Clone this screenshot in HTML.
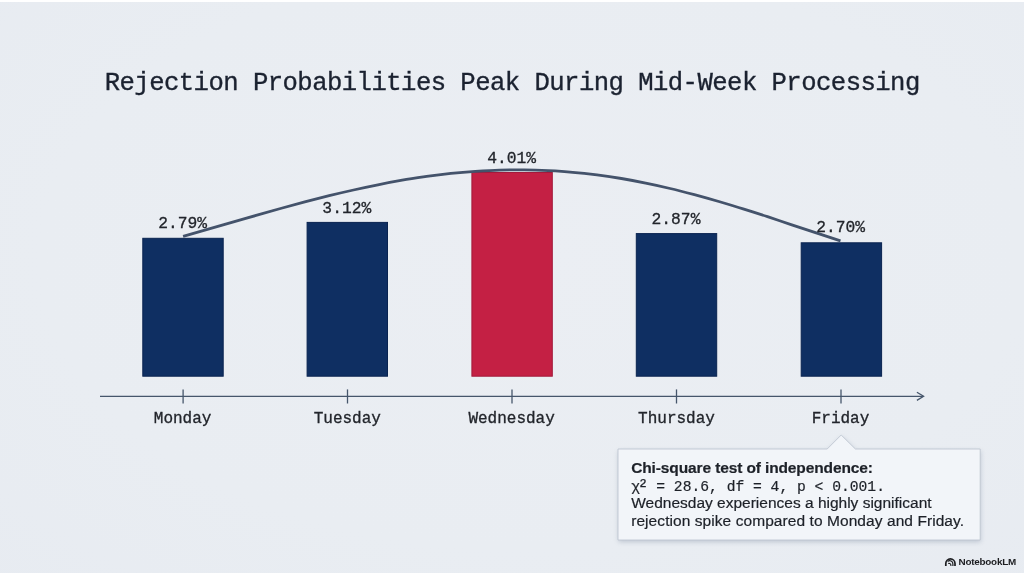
<!DOCTYPE html>
<html lang="en">
<head>
<meta charset="utf-8">
<title>Rejection Probabilities Peak During Mid-Week Processing</title>
<style>
  html, body { margin:0; padding:0; }
  body { width:1024px; height:576px; overflow:hidden; background:#ffffff; position:relative;
         font-family:"Liberation Sans", sans-serif; }
  #slide { position:absolute; left:0; top:2px; width:1024px; height:571px; background:radial-gradient(ellipse 80% 85% at 52% 45%, #ebeef3 0%, #e9edf2 60%, #e7ebf1 100%); }
  svg#chart { position:absolute; left:0; top:0; width:1024px; height:576px; }
  .mono { font-family:"Liberation Mono", monospace; }
  h1 { position:absolute; margin:0; left:104.7px; top:70px; font-family:"Liberation Mono", monospace;
       font-weight:400; font-size:25.6px; line-height:28px; color:#1b2230; white-space:nowrap; letter-spacing:-0.54px; -webkit-text-stroke:0.35px #1b2230; }
  .val { position:absolute; width:100px; margin-left:-50px; text-align:center; font-family:"Liberation Mono", monospace;
         font-size:16.3px; line-height:18px; color:#22252b; white-space:nowrap; -webkit-text-stroke:0.3px #22252b; }
  .day { position:absolute; width:120px; margin-left:-60px; text-align:center; font-family:"Liberation Mono", monospace;
         font-size:16px; line-height:18px; color:#22252b; white-space:nowrap; -webkit-text-stroke:0.3px #22252b; }
  #note { position:absolute; left:618px; top:449px; width:362px; height:91px; }
  #note p { position:absolute; margin:0; left:13.2px; white-space:nowrap; color:#1d2128; font-size:15.5px; line-height:18px; -webkit-text-stroke:0.2px #1d2128; }
  .sq { display:inline-block; width:8.8px; font-size:18.5px; line-height:0; text-align:center; text-indent:-1.2px; position:relative; top:0.3px; }
  #brand { position:absolute; left:958.6px; top:555.6px; font-size:9.9px; line-height:12px; color:#1c1d20; font-weight:700; white-space:nowrap; letter-spacing:-0.25px; }
</style>
</head>
<body>
<div id="slide"></div>
<svg id="chart" viewBox="0 0 1024 576">
  <rect x="142.8" y="238.3" width="80.4" height="137.9" fill="#0f2f62" stroke="#092350" stroke-width="1"/>
  <rect x="307.1" y="222.4" width="80.4" height="153.8" fill="#0f2f62" stroke="#092350" stroke-width="1"/>
  <rect x="471.9" y="172.5" width="80.4" height="203.7" fill="#c42044" stroke="#a31a3b" stroke-width="1"/>
  <rect x="636.3" y="233.6" width="80.4" height="142.6" fill="#0f2f62" stroke="#092350" stroke-width="1"/>
  <rect x="801.2" y="242.8" width="80.4" height="133.4" fill="#0f2f62" stroke="#092350" stroke-width="1"/>
  <path id="curve" d="M183.1 236.4 C191.2 234.1 199.3 231.8 207.4 229.4 C215.6 227.1 223.7 224.7 231.8 222.4 C239.9 220.1 248.0 217.7 256.1 215.4 C264.3 213.1 272.4 210.8 280.5 208.5 C288.6 206.3 296.7 204.1 304.8 201.9 C313.0 199.8 321.1 197.7 329.2 195.7 C337.3 193.7 345.4 191.8 353.5 190.0 C361.7 188.1 369.8 186.4 377.9 184.8 C386.0 183.1 394.1 181.6 402.2 180.2 C410.3 178.8 418.5 177.6 426.6 176.4 C434.7 175.3 442.8 174.3 450.9 173.4 C459.0 172.6 467.2 171.9 475.3 171.3 C483.4 170.8 491.5 170.3 499.6 170.1 C507.7 169.9 515.9 169.8 524.0 169.8 C532.1 169.9 540.2 170.2 548.3 170.6 C556.4 171.0 564.6 171.5 572.7 172.3 C580.8 173.0 588.9 173.9 597.0 174.9 C605.1 176.0 613.3 177.2 621.4 178.5 C629.5 179.9 637.6 181.4 645.7 183.1 C653.8 184.7 661.9 186.5 670.1 188.5 C678.2 190.4 686.3 192.5 694.4 194.6 C702.5 196.8 710.6 199.1 718.8 201.5 C726.9 203.9 735.0 206.3 743.1 208.9 C751.2 211.4 759.3 214.0 767.5 216.7 C775.6 219.4 783.7 222.1 791.8 224.8 C799.9 227.5 808.0 230.2 816.2 232.9 C824.3 235.6 832.4 238.3 840.5 240.9" fill="none" stroke="#44536b" stroke-width="2.8" stroke-linecap="butt"/>
  <g stroke="#46566b" stroke-width="1.3" fill="none">
    <line x1="100" y1="396.3" x2="923" y2="396.3"/>
    <polyline points="916.9,392.2 923.6,396.3 916.9,400.4" stroke-linejoin="miter"/>
    <line x1="183.1" y1="389.4" x2="183.1" y2="403.5"/>
    <line x1="347.5" y1="389.4" x2="347.5" y2="403.5"/>
    <line x1="512" y1="389.4" x2="512" y2="403.5"/>
    <line x1="676.5" y1="389.4" x2="676.5" y2="403.5"/>
    <line x1="841" y1="389.4" x2="841" y2="403.5"/>
  </g>
  <g fill="none" stroke="#1c1d20" stroke-width="1.3" stroke-linecap="butt">
    <path d="M945.8 565.9 V563.5 A4.6 4.6 0 0 1 955 563.5 V565.9" stroke-width="1.7"/>
    <path d="M947.6 561.5 A3.2 3.2 0 0 1 952.9 564.2 V565.9" stroke-width="1.2"/>
    <path d="M948.2 563.6 A1.8 1.8 0 0 1 950.9 565.2 V565.9" stroke-width="1.1"/>
  </g>
  <defs>
    <filter id="blur" x="-10%" y="-20%" width="120%" height="150%">
      <feGaussianBlur stdDeviation="2.4"/>
    </filter>
  </defs>
  <path d="M618 449 H827.2 L841.2 435 L855.4 449 H980.2 V540 H618 Z" fill="#5a6a85" opacity="0.30" filter="url(#blur)" transform="translate(0.5 2)"/>
  <path d="M618 449 H827.2 L841.2 435 L855.4 449 H980.2 V540 H618 Z" fill="#f2f5f9" stroke="#bec6d1" stroke-width="0.9" stroke-linejoin="miter"/>
</svg>
<h1>Rejection Probabilities Peak During Mid-Week Processing</h1>
<div class="val" style="left:182.6px; top:215.2px;">2.79%</div>
<div class="val" style="left:346.8px; top:199.9px;">3.12%</div>
<div class="val" style="left:511.6px; top:150px;">4.01%</div>
<div class="val" style="left:676px; top:211px;">2.87%</div>
<div class="val" style="left:840.6px; top:219.2px;">2.70%</div>
<div class="day" style="left:182.6px; top:410.3px;">Monday</div>
<div class="day" style="left:347.3px; top:410.3px;">Tuesday</div>
<div class="day" style="left:511.6px; top:410.3px;">Wednesday</div>
<div class="day" style="left:676.5px; top:410.3px;">Thursday</div>
<div class="day" style="left:840.5px; top:410.3px;">Friday</div>
<div id="note">
  <p style="top:9.6px; font-weight:700; letter-spacing:-0.12px;">Chi-square test of independence:</p>
  <p class="mono" style="top:29.3px; font-size:14.67px;"><span style="margin-right:-1.3px;">χ</span><span class="sq">²</span> = 28.6, df = 4, p &lt; 0.001.</p>
  <p style="top:45px;">Wednesday experiences a highly significant</p>
  <p style="top:63px; letter-spacing:0.07px;">rejection spike compared to Monday and Friday.</p>
</div>
<div id="brand">NotebookLM</div>
</body>
</html>
